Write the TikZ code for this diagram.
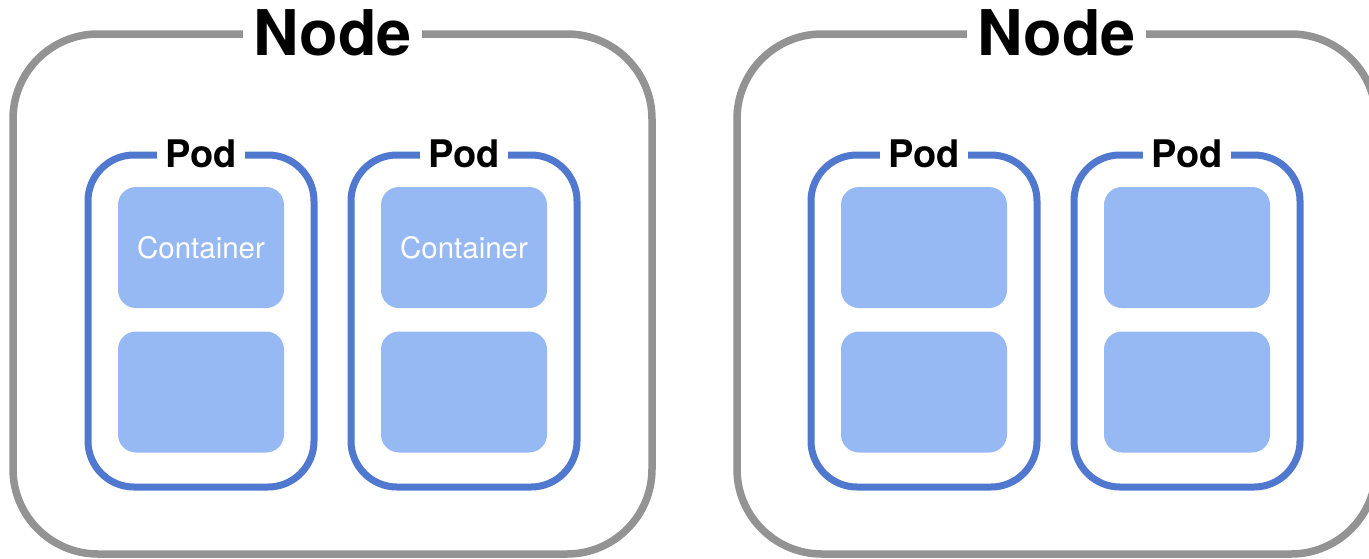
\documentclass[tikz,border=0pt]{standalone}
\usepackage{fontspec}
\setmainfont{TeX Gyre Heros}
\definecolor{nodegray}{HTML}{939393}
\definecolor{podblue}{HTML}{5078CF}
\definecolor{contfill}{HTML}{97B9F3}
\begin{document}
\begin{tikzpicture}[x=1pt,y=-1pt,
  k8snode/.style={draw=nodegray, line width=7.5pt, rounded corners=85pt, outer sep=0pt, inner sep=0pt, minimum width=639pt, minimum height=520pt},
  podbox/.style={draw=podblue, line width=7pt, rounded corners=46pt, outer sep=0pt, inner sep=0pt, minimum width=226pt, minimum height=332pt},
  contbox/.style={fill=contfill, rounded corners=18pt, minimum width=166pt, minimum height=121pt, inner sep=0pt, text=white, font=\fontsize{29.5}{30}\selectfont, text height=21.2pt, text depth=0pt},
  nodetitle/.style={fill=white, inner xsep=10pt, inner ysep=2pt, font=\fontsize{63}{63}\selectfont\bfseries, text height=45.4pt, text depth=0pt},
  podtitle/.style={fill=white, inner xsep=8pt, inner ysep=2pt, font=\fontsize{38}{38}\selectfont\bfseries, text height=27.4pt, text depth=0pt}]
\useasboundingbox (0,0) rectangle (1369,558);
\fill[white] (0,0) rectangle (1369,558);
% Nodes
\node[k8snode] (n1) at (332.5,294) {};
\node[k8snode] (n2) at (1056.5,294) {};
\node[nodetitle] (n1t) at ([yshift=1.5pt]n1.north) {Node};
\node[nodetitle] (n2t) at ([yshift=1.5pt]n2.north) {Node};
% Pods
\node[podbox] (p1) at (201,321) {};
\node[podbox] (p2) at (464,321) {};
\node[podbox] (p3) at (924,321) {};
\node[podbox] (p4) at (1187,321) {};
\node[podtitle] (p1t) at ([yshift=1.5pt]p1.north) {Pod};
\node[podtitle] (p2t) at ([yshift=1.5pt]p2.north) {Pod};
\node[podtitle] (p3t) at ([yshift=1.5pt]p3.north) {Pod};
\node[podtitle] (p4t) at ([yshift=1.5pt]p4.north) {Pod};
% Containers
\node[contbox] (c1a) at (201,247.5) {Container};
\node[contbox] (c1b) at (201,392) {};
\node[contbox] (c2a) at (464,247.5) {Container};
\node[contbox] (c2b) at (464,392) {};
\node[contbox] (c3a) at (924,247.5) {};
\node[contbox] (c3b) at (924,392) {};
\node[contbox] (c4a) at (1187,247.5) {};
\node[contbox] (c4b) at (1187,392) {};
\end{tikzpicture}
\end{document}
